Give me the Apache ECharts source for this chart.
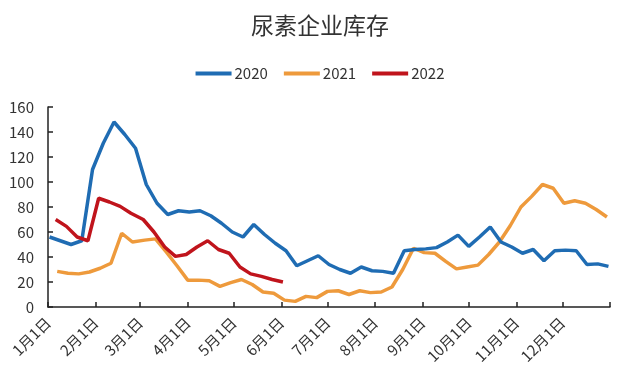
<!DOCTYPE html>
<html>
<head>
<meta charset="utf-8">
<script src="https://cdn.jsdelivr.net/npm/echarts@6/dist/echarts.min.js"></script>
<style>
html,body{margin:0;padding:0;background:#fff;}
#chart{width:640px;height:381px;}
</style>
</head>
<body>
<div id="chart"></div>
<script>
// Axis: month starts (day offset from Jan 1) and tick labels
const monthStart = [0,31,60,91,121,152,182,213,244,274,305,335,366];
const xTickLabels = ['1月1日','2月1日','3月1日','4月1日','5月1日','6月1日','7月1日','8月1日','9月1日','10月1日','11月1日','12月1日'];
const yTicks = [0,20,40,60,80,100,120,140,160];

// 2020 (weekly)
const dates2020 = ['01-02','01-09','01-16','01-23','01-30','02-06','02-13','02-20','02-27','03-05','03-12','03-19','03-26','04-02','04-09','04-16','04-23','04-30','05-07','05-14','05-21','05-28','06-04','06-11','06-18','06-25','07-02','07-09','07-16','07-23','07-30','08-06','08-13','08-20','08-27','09-03','09-10','09-17','09-24','10-01','10-08','10-15','10-22','10-29','11-05','11-12','11-19','11-26','12-03','12-10','12-17','12-24','12-31'];
const values2020 = [56,53,50,53,110,131,148,138,127,98,83,74,77,76,77,73,67,60,56,66,58,51,45,33,37,41,34,30,27,32,29,28.5,27,45,46,46.5,47.5,52,57.5,48.5,56,64,52,48,43,46,37,45,45.5,45,34,34.5,32.5];

// 2021 (weekly)
const dates2021 = ['01-07','01-14','01-21','01-28','02-04','02-11','02-18','02-25','03-04','03-11','03-18','03-25','04-01','04-08','04-15','04-22','04-29','05-06','05-13','05-20','05-27','06-03','06-10','06-17','06-24','07-01','07-08','07-15','07-22','07-29','08-05','08-12','08-19','08-26','09-02','09-09','09-16','09-23','09-30','10-07','10-14','10-21','10-28','11-04','11-11','11-18','11-25','12-02','12-09','12-16','12-23','12-30'];
const values2021 = [28.5,27,26.5,28,31,35,59,52,53.5,54.5,44,33,21.5,21.5,21,16.5,19.5,22,18,12,11,5.5,4.5,8.5,7.5,12.5,13,10,13,11.5,12,16,30,47,43.5,43,36.5,30.5,32,33.5,42,52,65,80,88.5,98,95,83,85,83,78,72];

// 2022 (weekly)
const dates2022 = ['01-06','01-13','01-20','01-27','02-03','02-10','02-17','02-24','03-03','03-10','03-17','03-24','03-31','04-07','04-14','04-21','04-28','05-05','05-12','05-19','05-26','06-02'];
const values2022 = [70,64.5,56,53,87,84,80.5,75,70,60,48,40.5,42,48,53,46,43,32,26.5,24.5,22,20];

const seriesNames = ['2020','2021','2022'];
const seriesColors = ['#1F6CB3','#EE9A3C','#C0141C'];

function dayOfYear(s){
  const p = s.split('-').map(Number);
  return monthStart[p[0]-1] + p[1] - 1;
}
function pairs(dates, vals){ return dates.map((d,i)=>[dayOfYear(d), vals[i]]); }

const FONT = '"Noto Sans CJK SC", "Noto Sans", sans-serif';
const chart = echarts.init(document.getElementById('chart'), null, {renderer:'canvas'});
chart.setOption({
  backgroundColor:'#ffffff',
  animation:false,
  title:{
    text:'尿素企业库存', left:'center', top:9,
    textStyle:{fontFamily:FONT, fontSize:23, fontWeight:'normal', color:'#333'}
  },
  legend:{
    top:61, left:'center', icon:'rect', itemWidth:36, itemHeight:4, itemGap:16,
    textStyle:{fontFamily:FONT, fontSize:15, color:'#333', padding:[0,0,0,-2]},
    data: seriesNames
  },
  grid:{left:48, right:30, top:107, bottom:74},
  xAxis:{
    type:'value', min:0, max:366,
    splitLine:{show:false},
    axisLine:{show:true, lineStyle:{color:'#222', width:1.5}},
    axisTick:{show:true, inside:true, length:5, customValues: monthStart, lineStyle:{color:'#222', width:1.5}},
    axisLabel:{
      customValues: monthStart.slice(0,12), rotate:45, margin:13,
      fontFamily:FONT, fontSize:15, color:'#333',
      formatter: function(v){ const i = monthStart.indexOf(v); return i>=0 && i<12 ? xTickLabels[i] : ''; }
    }
  },
  yAxis:{
    type:'value', min:0, max:160, interval:20,
    splitLine:{show:false},
    axisLine:{show:true, lineStyle:{color:'#222', width:1.5}},
    axisTick:{show:true, inside:true, length:5, lineStyle:{color:'#222', width:1.5}},
    axisLabel:{fontFamily:FONT, fontSize:15, color:'#333', margin:14}
  },
  series:[
    {name:seriesNames[0], type:'line', data:pairs(dates2020, values2020), symbol:'none', lineStyle:{width:3.5, color:seriesColors[0]}, itemStyle:{color:seriesColors[0]}, z:3},
    {name:seriesNames[1], type:'line', data:pairs(dates2021, values2021), symbol:'none', lineStyle:{width:3.5, color:seriesColors[1]}, itemStyle:{color:seriesColors[1]}, z:2},
    {name:seriesNames[2], type:'line', data:pairs(dates2022, values2022), symbol:'none', lineStyle:{width:3.5, color:seriesColors[2]}, itemStyle:{color:seriesColors[2]}, z:4}
  ]
});
</script>
</body>
</html>
